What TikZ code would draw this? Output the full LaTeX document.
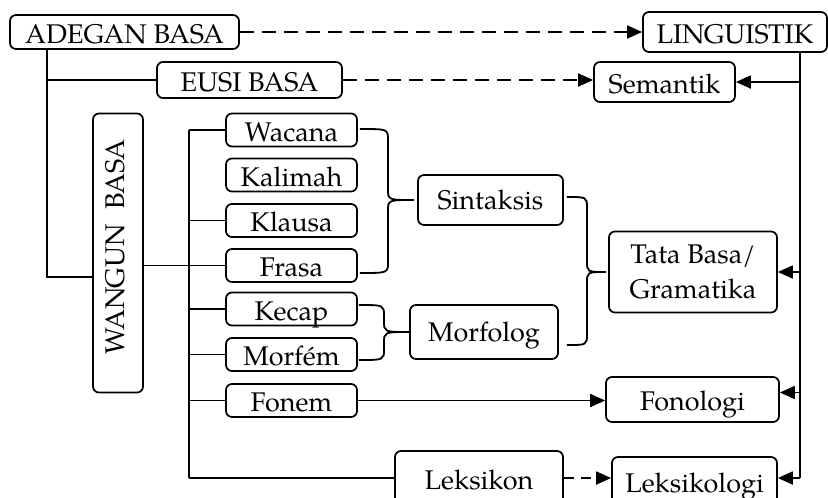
\documentclass[tikz,border=0pt]{standalone}
\usepackage{fontspec}
\setmainfont{texgyrepagella-regular.otf}
\usetikzlibrary{arrows.meta,calc}
\tikzset{
  box/.style={draw, line width=1.7pt, rounded corners=6pt, inner sep=0pt,
    font=\fontsize{27}{35}\selectfont, text height=24pt, text depth=2pt, align=center},
  word/.style={box, minimum width=131pt, minimum height=33pt},
  conn/.style={line width=1.8pt},
  tip/.style={-{Triangle[length=15pt,width=13pt]}},
  dsh/.style={dash pattern=on 14pt off 8pt},
}
\newcommand\mybrace[4]{\draw[conn] let \p1=(#1), \p2=(#2), \p3=(#3) in
  (\p1) .. controls (#4,\y1) .. (#4,\y1-11pt) -- (#4,\y2+11pt)
  .. controls (#4,\y2) .. (\p2) .. controls (#4,\y2) .. (#4,\y2-11pt)
  -- (#4,\y3+11pt) .. controls (#4,\y3) .. (\p3);}
\begin{document}
\begin{tikzpicture}[x=1pt,y=-1pt]
\useasboundingbox (0,0) rectangle (828,498);
% boxes
\node[box, minimum width=229pt, minimum height=34pt] (adegan) at (124.5,32) {ADEGAN BASA};
\node[box, minimum width=184pt, minimum height=40pt] (ling) at (735,32) {LINGUISTIK};
\node[box, minimum width=185pt, minimum height=36pt] (eusi) at (249.5,80) {EUSI BASA};
\node[box, minimum width=141pt, minimum height=40pt] (sem) at (664.5,82) {Semantik};
\node[box, rotate=90, minimum width=279pt, minimum height=50pt, text height=19.5pt, text depth=6.5pt] (wangun) at (118,253) {\hspace{12pt}WANGUN\hspace{0.3em} BASA};
\node[word] (wacana) at (291.5,130) {Wacana};
\node[word] (kalimah) at (291.5,175) {Kalimah};
\node[word] (klausa) at (291.5,220.5) {Klausa};
\node[word] (frasa) at (291.5,265.5) {Frasa};
\node[word] (kecap) at (291.5,309) {Kecap};
\node[word] (morfem) at (291.5,354.5) {Morfém};
\node[word] (fonem) at (291.5,400.5) {Fonem};
\node[box, minimum width=145pt, minimum height=50pt, text height=22pt, text depth=4pt] (sintaksis) at (490.5,200) {Sintaksis};
\node[box, minimum width=148pt, minimum height=54pt, text height=22pt, text depth=4pt] (morfolog) at (484,332) {Morfolog};
\node[box, minimum width=168pt, minimum height=81pt, text height=, text depth=] (tata) at (693,272) {Tata Basa/\\Gramatika};
\node[box, minimum width=173pt, minimum height=45pt] (fonologi) at (692.5,399.5) {Fonologi};
\node[box, minimum width=168pt, minimum height=54pt] (leksikon) at (479,478) {Leksikon};
\node[box, minimum width=165pt, minimum height=48pt] (leksikologi) at (694.5,481) {Leksikologi};
% helper coordinates
\coordinate (wl) at (47,277);
\coordinate (bus) at (189,0);
\coordinate (rail) at (800,0);
% left tree
\draw[conn] (adegan.south -| wl) -- (wl) -- (wl -| wangun.north);
\draw[conn] (eusi.west -| wl) -- (eusi.west);
\draw[conn] (frasa.west -| wangun.south) -- (frasa.west);
\draw[conn] (wacana.west -| bus) -- (leksikon.west -| bus);
\foreach \n in {wacana,klausa,kecap,morfem,fonem,leksikon}
  \draw[conn] (\n.west -| bus) -- (\n.west);
% dashed arrows
\draw[conn,dsh,tip] (adegan.east) -- (ling.west);
\draw[conn,dsh,tip] (eusi.east) -- (eusi.east -| sem.west);
\draw[conn,tip,dash pattern=on 10pt off 7pt] (leksikon.east) -- (leksikon.east -| leksikologi.west);
% solid arrow
\draw[conn,tip] (fonem.east) -- (fonem.east -| fonologi.west);
% braces
\mybrace{$(wacana.east)+(2,-1)$}{$(sintaksis.west)+(-3,0)$}{$(frasa.east)+(2,7.5)$}{388pt}
\mybrace{$(sintaksis.east)+(3,-3)$}{$(tata.west)+(-2,0)$}{$(morfolog.east)+(8,13)$}{587pt}
\mybrace{$(kecap.east)+(1,-4)$}{morfolog.west}{$(morfem.east)+(1,5.5)$}{384pt}
% right rail
\draw[conn] (ling.south -| rail) -- (leksikon.east -| rail);
\draw[conn,tip] (sem.east -| rail) -- (sem.east);
\draw[conn,tip] (tata.east -| rail) -- (tata.east);
\draw[conn,tip] ($(fonologi.east -| rail)+(0,-7)$) -- ($(fonologi.east)+(0,-7)$);
\draw[conn,tip] (leksikon.east -| rail) -- (leksikon.east -| leksikologi.east);
\end{tikzpicture}
\end{document}
